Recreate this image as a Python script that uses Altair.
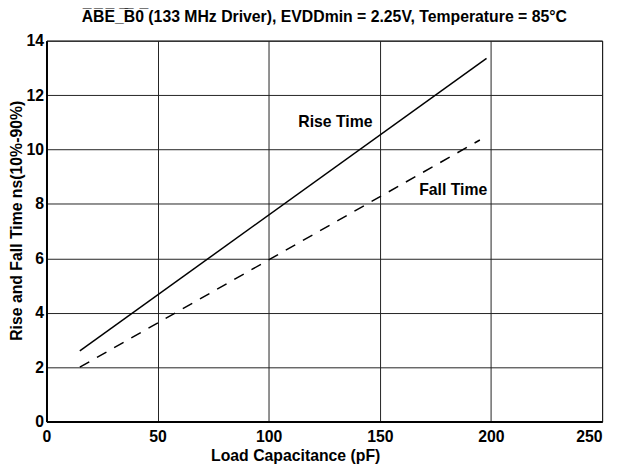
import altair as alt
import pandas as pd

# Data
rise_cap = [15, 198]
rise_ns = [2.6, 13.35]
fall_cap = [15, 195]
fall_ns = [2.0, 10.35]
x_ticks = [0, 50, 100, 150, 200, 250]
y_ticks = [0, 2, 4, 6, 8, 10, 12, 14]
label_text = ["Rise Time", "Fall Time"]
label_cap = [130, 183]
label_ns = [11.0, 8.5]

FONT = "Liberation Sans"
FS = 16

rise_df = pd.DataFrame({"cap": rise_cap, "ns": rise_ns})
fall_df = pd.DataFrame({"cap": fall_cap, "ns": fall_ns})
lab_df = pd.DataFrame({"cap": label_cap, "ns": label_ns, "t": label_text})

xs = alt.Scale(domain=[0, 250], nice=False)
ys = alt.Scale(domain=[0, 14], nice=False)

xax = alt.Axis(values=x_ticks, title="Load Capacitance (pF)", labelFlush=False,
               labelAlign=alt.expr("datum.value >= 250 ? 'right' : 'center'"),
               tickSize=0, labelPadding=7,
               titleX=252, titleY=39, titleAlign="center", titleBaseline="alphabetic")
yax = alt.Axis(values=y_ticks, title="Rise and Fall Time ns(10%-90%)",
               tickSize=0, labelPadding=3,
               titleX=-30, titleY=182, titleAngle=270, titleAlign="center",
               titleBaseline="middle")

rise = alt.Chart(rise_df).mark_line(color="black", strokeWidth=1.5).encode(
    x=alt.X("cap:Q", scale=xs, axis=xax),
    y=alt.Y("ns:Q", scale=ys, axis=yax),
)
fall = alt.Chart(fall_df).mark_line(color="black", strokeWidth=1.5, strokeDash=[11, 9]).encode(
    x=alt.X("cap:Q", scale=xs),
    y=alt.Y("ns:Q", scale=ys),
)
labels = alt.Chart(lab_df).mark_text(font=FONT, fontWeight="bold", fontSize=FS,
                                     color="black").encode(
    x=alt.X("cap:Q", scale=xs),
    y=alt.Y("ns:Q", scale=ys),
    text="t:N",
)

title = ("A\u0305B\u0305E\u0305_\u0305B\u03050\u0305 (133 MHz Driver), "
         "EVDDmin = 2.25V, Temperature = 85\u00b0C")

chart = alt.layer(rise, fall, labels).properties(
    width=563, height=386,
    autosize=alt.AutoSizeParams(type="none"),
    padding={"left": 39, "top": 30, "right": 8, "bottom": 51},
    title=alt.TitleParams(title, font=FONT, fontSize=FS, fontWeight="bold",
                          anchor="middle", offset=8, color="black"),
).configure_axis(
    labelFont=FONT, labelFontSize=FS, labelFontWeight="bold", labelColor="black",
    titleFont=FONT, titleFontSize=FS, titleFontWeight="bold", titleColor="black",
    domainColor="black", domainWidth=2, tickColor="black",
    grid=True, gridColor="#222222", gridWidth=1, gridOpacity=1,
).configure_view(stroke="black", strokeWidth=1)

chart.save("out.html", embed_options={"renderer": "svg", "actions": False})
